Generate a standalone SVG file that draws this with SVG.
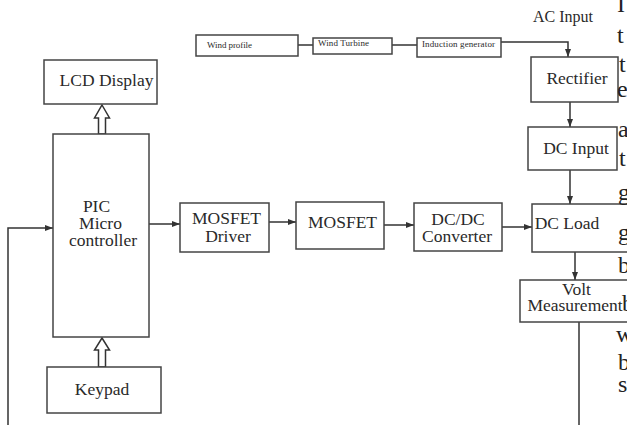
<svg xmlns="http://www.w3.org/2000/svg" width="627" height="425" viewBox="0 0 627 425">
<defs>
<marker id="ah" markerUnits="userSpaceOnUse" markerWidth="8" markerHeight="6" refX="8" refY="3" orient="auto">
<path d="M0,0 L8,3 L0,6 z" fill="#333"/>
</marker>
<style>
.box{fill:#fff;stroke:#444;stroke-width:1.5}
.t{font-family:"Liberation Serif","Times New Roman",serif;font-size:17.5px;fill:#2a2a2a;text-anchor:middle}
.s{font-family:"Liberation Serif","Times New Roman",serif;font-size:9px;fill:#2a2a2a}
.pg{font-family:"Liberation Serif","Times New Roman",serif;font-size:24px;fill:#222}
.c{fill:none;stroke:#333;stroke-width:1.5}
.ca{fill:none;stroke:#333;stroke-width:1.5;marker-end:url(#ah)}
.hol{fill:#fff;stroke:#333;stroke-width:1.5}
</style>
</defs>
<rect width="627" height="425" fill="#fff"/>

<g id="connectors">
<line class="c" x1="298" y1="45" x2="313" y2="45"/>
<line class="c" x1="392" y1="45" x2="417" y2="45"/>
<polyline class="ca" points="501,42 568,42 568,57"/>
<line class="ca" x1="570" y1="102" x2="570" y2="127"/>
<line class="ca" x1="570" y1="170" x2="570" y2="204"/>
<line class="ca" x1="575" y1="252" x2="575" y2="280"/>
<line class="c" x1="579" y1="322" x2="579" y2="425"/>
<polyline class="ca" points="8,425 8,228 53,228"/>
<line class="ca" x1="149" y1="224" x2="180" y2="224"/>
<line class="ca" x1="269" y1="222" x2="296" y2="222"/>
<line class="ca" x1="384" y1="225" x2="414" y2="225"/>
<line class="ca" x1="502" y1="227" x2="532" y2="227"/>
<polygon class="hol" points="102,105 109.5,118 105.5,118 105.5,134 98.5,134 98.5,118 94.5,118"/>
<polygon class="hol" points="102,338 109.5,350 105.5,350 105.5,367 98.5,367 98.5,350 94.5,350"/>
</g>

<g id="wind-profile"><rect class="box" x="196" y="35" width="102" height="21"/><text class="s" x="207" y="48" textLength="45">Wind profile</text></g>
<g id="wind-turbine"><rect class="box" x="313" y="38" width="79" height="16"/><text class="s" x="318" y="46" textLength="51">Wind Turbine</text></g>
<g id="induction-generator"><rect class="box" x="417" y="38" width="84" height="19"/><text class="s" x="422" y="47" textLength="73">Induction generator</text></g>

<g id="ac-input"><text class="t" x="563" y="22" style="font-size:16px">AC Input</text></g>
<g id="rectifier"><rect class="box" x="531" y="57" width="87" height="45"/><text class="t" x="577" y="84">Rectifier</text></g>
<g id="dc-input"><rect class="box" x="528" y="127" width="89" height="43"/><text class="t" x="576" y="154">DC Input</text></g>
<g id="dc-load"><rect class="box" x="532" y="204" width="100" height="48"/><text class="t" x="567" y="229">DC Load</text></g>
<g id="volt-measurement"><rect class="box" x="520" y="280" width="112" height="42"/><text class="t" x="576.5" y="295">Volt</text><text class="t" x="575" y="311">Measurement</text></g>

<g id="lcd-display"><rect class="box" x="44" y="60" width="113" height="44"/><text class="t" x="106.5" y="86">LCD Display</text></g>
<g id="pic"><rect class="box" x="53" y="134" width="96" height="203"/><text class="t" x="96.5" y="212">PIC</text><text class="t" x="100.5" y="229">Micro</text><text class="t" x="103" y="246">controller</text></g>
<g id="keypad"><rect class="box" x="47" y="367" width="114" height="46"/><text class="t" x="102" y="395">Keypad</text></g>

<g id="mosfet-driver"><rect class="box" x="180" y="203" width="89" height="49"/><text class="t" x="226.5" y="224">MOSFET</text><text class="t" x="228" y="242">Driver</text></g>
<g id="mosfet"><rect class="box" x="296" y="202" width="88" height="47"/><text class="t" x="342.5" y="228">MOSFET</text></g>
<g id="dc-dc"><rect class="box" x="414" y="203" width="88" height="48"/><text class="t" x="458" y="225">DC/DC</text><text class="t" x="457" y="242">Converter</text></g>

<g id="page-text">
<text class="pg" x="617" y="12">I</text>
<text class="pg" x="617" y="43">t</text>
<text class="pg" x="619" y="72">t</text>
<text class="pg" x="617" y="97">e</text>
<text class="pg" x="618" y="137">a</text>
<text class="pg" x="619" y="166">t</text>
<text class="pg" x="618" y="200">g</text>
<text class="pg" x="618" y="240">g</text>
<text class="pg" x="618" y="273">b</text>
<text class="pg" x="622" y="311">b</text>
<text class="pg" x="616" y="342">w</text>
<text class="pg" x="618" y="370">b</text>
<text class="pg" x="618" y="392">s</text>
</g>
</svg>
